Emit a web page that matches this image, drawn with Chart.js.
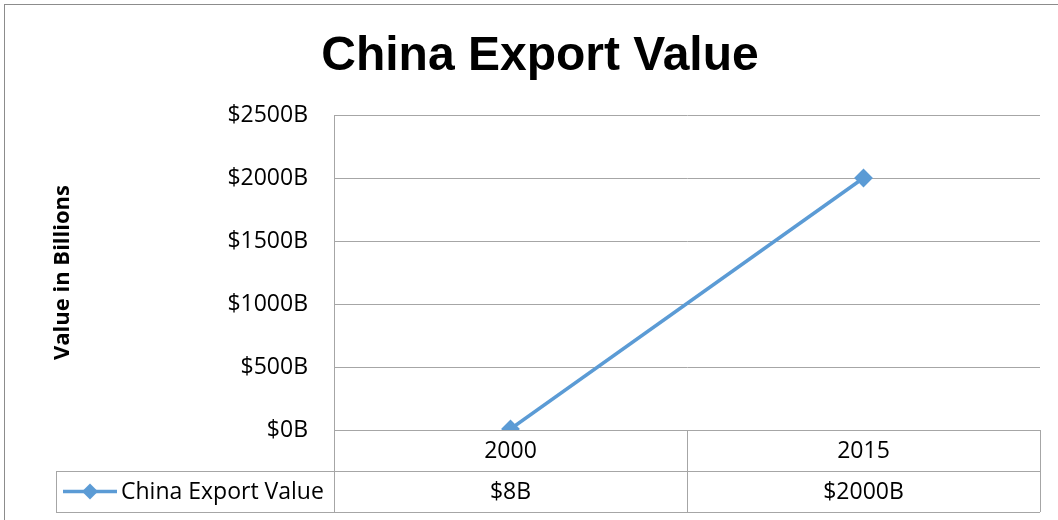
<!DOCTYPE html>
<html>
<head>
<meta charset="utf-8">
<script src="https://cdn.jsdelivr.net/npm/chart.js@4"></script>
<style>
  html, body { margin: 0; padding: 0; background: #fff; overflow: hidden; }
  #cadre { position: absolute; left: 0; top: 0; width: 1058px; height: 520px; }
  #bord { position: absolute; left: 4px; top: 4px; width: 2000px; height: 2000px; border: 1px solid #8c8c8c; }
</style>
</head>
<body>
<div id="cadre">
  <div id="bord"></div>
  <canvas id="chartExport" width="1058" height="520"></canvas>
</div>
<script>
// ---- données ----
const annees = ["2000", "2015"];
const valeursExport = [8, 2000];
const nomSerie = "China Export Value";
const graduations = [0, 500, 1000, 1500, 2000, 2500];

const couleurSerie = "#5b9bd5";
const couleurGrille = "#a6a6a6";
const policeTexte = "'Open Sans', sans-serif";

const enDollars = v => "$" + v + "B";

// tableau de données façon Excel sous l'axe des x
const tableauDonnees = {
  id: "tableauDonnees",
  afterDraw(chart) {
    const { ctx, chartArea, scales } = chart;
    const x = scales.x;
    const haut = chartArea.bottom;
    const hLigne = 41;
    const gauche = 56;
    const largeurCat = (chartArea.right - chartArea.left) / annees.length;

    ctx.save();
    ctx.strokeStyle = couleurGrille;
    ctx.lineWidth = 1;
    ctx.beginPath();
    // lignes horizontales
    [haut + hLigne, haut + 2 * hLigne].forEach(y => {
      ctx.moveTo(gauche, Math.round(y) + 0.5);
      ctx.lineTo(chartArea.right, Math.round(y) + 0.5);
    });
    // séparateurs verticaux
    for (let i = 0; i <= annees.length; i++) {
      const xs = Math.round(chartArea.left + i * largeurCat) + 0.5;
      ctx.moveTo(xs, haut);
      ctx.lineTo(xs, haut + 2 * hLigne);
    }
    ctx.moveTo(gauche + 0.5, haut + hLigne);
    ctx.lineTo(gauche + 0.5, haut + 2 * hLigne);
    ctx.stroke();

    // textes
    ctx.fillStyle = "#000";
    ctx.font = "23px " + policeTexte;
    ctx.textAlign = "center";
    ctx.textBaseline = "middle";
    annees.forEach((a, i) => {
      const xc = x.getPixelForValue(i);
      ctx.fillText(a, xc, haut + hLigne / 2 + 1);
      ctx.fillText(enDollars(valeursExport[i]), xc, haut + 1.5 * hLigne + 1);
    });

    // légende dans la cellule de gauche
    const yl = haut + 1.5 * hLigne;
    ctx.strokeStyle = couleurSerie;
    ctx.lineWidth = 3.5;
    ctx.beginPath();
    ctx.moveTo(63, yl);
    ctx.lineTo(117, yl);
    ctx.stroke();
    ctx.fillStyle = couleurSerie;
    ctx.beginPath();
    ctx.moveTo(90, yl - 8);
    ctx.lineTo(98, yl);
    ctx.lineTo(90, yl + 8);
    ctx.lineTo(82, yl);
    ctx.closePath();
    ctx.fill();
    ctx.fillStyle = "#000";
    ctx.textAlign = "left";
    ctx.fillText(nomSerie, 121, yl + 1);
    ctx.restore();
  }
};

new Chart(document.getElementById("chartExport"), {
  type: "line",
  data: {
    labels: annees,
    datasets: [{
      label: nomSerie,
      data: valeursExport,
      borderColor: couleurSerie,
      backgroundColor: couleurSerie,
      borderWidth: 3.5,
      tension: 0,
      pointStyle: "rectRot",
      pointRadius: 8,
      pointBorderWidth: 2,
      pointBackgroundColor: couleurSerie,
      pointBorderColor: couleurSerie
    }]
  },
  options: {
    responsive: false,
    animation: false,
    layout: { padding: { left: 40, right: 18, top: 0, bottom: 90 } },
    plugins: {
      legend: { display: false },
      tooltip: { enabled: false },
      title: {
        display: true,
        text: "China Export Value",
        color: "#000",
        font: { family: "'Liberation Sans', Arial, sans-serif", size: 48, weight: "bold", lineHeight: 1.2 },
        padding: { top: 28, bottom: 29.4 }
      }
    },
    scales: {
      x: {
        type: "category",
        offset: true,
        display: false
      },
      y: {
        min: 0,
        max: 2500,
        afterBuildTicks: scale => { scale.ticks = graduations.map(v => ({ value: v })); },
        afterFit: scale => { scale.width = 294; },
        grid: { color: couleurGrille, lineWidth: 1, drawTicks: false },
        border: { display: true, color: couleurGrille, width: 1 },
        ticks: {
          color: "#000",
          padding: 26,
          font: { family: policeTexte, size: 23 },
          callback: v => enDollars(v)
        },
        title: {
          display: true,
          text: "Value in Billions",
          color: "#000",
          font: { family: policeTexte, size: 22, weight: "bold" },
          padding: { top: 10, bottom: 0 }
        }
      }
    }
  },
  plugins: [tableauDonnees]
});
</script>
</body>
</html>
